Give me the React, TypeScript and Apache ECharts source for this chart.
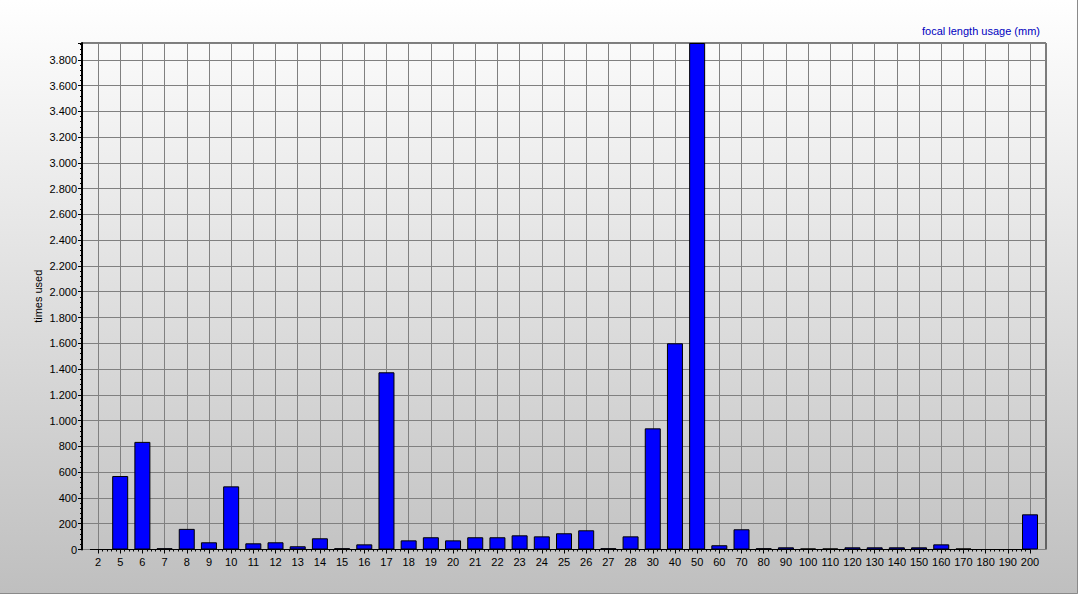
import React, { useEffect, useRef } from "react";
import * as echarts from "echarts";

const categories = [
  "2", "5", "6", "7", "8", "9", "10", "11", "12", "13", "14", "15", "16", "17", "18", "19", "20",
  "21", "22", "23", "24", "25", "26", "27", "28", "30", "40", "50", "60", "70", "80", "90", "100",
  "110", "120", "130", "140", "150", "160", "170", "180", "190", "200",
];
const timesUsed = [
  0, 570, 835, 10, 160, 56, 490, 48, 56, 25, 87, 10, 40, 1375, 71, 95, 71,
  95, 95, 110, 102, 126, 149, 10, 102, 940, 1600, 3930, 33, 157, 10, 17, 8,
  8, 17, 17, 17, 17, 40, 8, 0, 0, 273,
];
const yMax = 3930;
const yStep = 200;
const titleText = "focal length usage (mm)";
const yName = "times used";

const fmt = (v: number) =>
  v >= 1000 ? `${Math.floor(v / 1000)}.${String(v % 1000).padStart(3, "0")}` : String(v);

export default function App() {
  const ref = useRef<HTMLDivElement>(null);
  useEffect(() => {
    const chart = echarts.init(ref.current!, null, { renderer: "svg" });
    const font = "'Liberation Sans', Arial, sans-serif";
    chart.setOption({
      animation: false,
      backgroundColor: {
        type: "linear", x: 0, y: 0, x2: 0, y2: 1,
        colorStops: [
          { offset: 0, color: "#ffffff" },
          { offset: 1, color: "#bfbfbf" },
        ],
      },
      textStyle: { fontFamily: font },
      title: {
        text: titleText,
        right: 33,
        top: 20,
        textStyle: { fontSize: 11, fontWeight: "normal", color: "#0000c0", fontFamily: font },
      },
      grid: [
        { left: 98, right: 48, top: 43, bottom: 44.5 },
        { left: 82, right: 32, top: 43, bottom: 44.5, show: true, borderColor: "#000", borderWidth: 1 },
      ],
      xAxis: [
        {
          type: "category",
          gridIndex: 0,
          data: categories,
          boundaryGap: false,
          axisLine: { show: true, lineStyle: { color: "#000", width: 1 } },
          axisTick: { show: true, interval: 0, length: 4, lineStyle: { color: "#000" } },
          axisLabel: { interval: 0, margin: 7, fontSize: 11, color: "#000", fontFamily: font },
          splitLine: { show: true, interval: 0, lineStyle: { color: "#808080", width: 1 } },
        },
        {
          type: "value",
          gridIndex: 0,
          min: 0,
          max: categories.length - 1,
          interval: 1,
          position: "bottom",
          axisLine: { show: false },
          axisTick: { show: false },
          axisLabel: { show: false },
          splitLine: { show: false },
          minorTick: { show: true, splitNumber: 5, length: 2, lineStyle: { color: "#000" } },
          minorSplitLine: { show: false },
        },
        { type: "value", gridIndex: 1, show: false, min: 0, max: 1 },
      ],
      yAxis: [
        { type: "value", gridIndex: 0, min: 0, max: yMax, show: false },
        {
          type: "value",
          gridIndex: 1,
          min: 0,
          max: yMax,
          interval: yStep,
          name: yName,
          nameLocation: "middle",
          nameRotate: 90,
          nameGap: 39,
          nameMoveOverlap: false,
          nameTextStyle: { fontSize: 11, color: "#000", fontFamily: font },
          axisLine: { show: true, lineStyle: { color: "#000", width: 2 } },
          axisTick: { show: true, length: 4, lineStyle: { color: "#000" } },
          minorTick: { show: true, splitNumber: 5, length: 2, lineStyle: { color: "#000" } },
          axisLabel: {
            fontSize: 11, color: "#000", margin: 5, fontFamily: font,
            showMaxLabel: false,
            formatter: (v: number) => fmt(v),
          },
          splitLine: { show: true, lineStyle: { color: "#808080", width: 1 } },
        },
      ],
      series: [
        {
          type: "bar",
          xAxisIndex: 0,
          yAxisIndex: 0,
          data: timesUsed,
          barWidth: 16,
          itemStyle: { color: "#0000ff", borderColor: "#000", borderWidth: 1 },
        },
      ],
      graphic: [
        {
          type: "polyline",
          shape: { points: [[1077.5, 0], [1077.5, 593.5], [0, 593.5]] },
          style: { stroke: "#8a8a8a", fill: null, lineWidth: 1 },
        },
      ],
    });
    return () => chart.dispose();
  }, []);
  return (
    <div
      ref={ref}
      style={{ position: "absolute", left: 0, top: 0, width: 1078, height: 594 }}
    />
  );
}
